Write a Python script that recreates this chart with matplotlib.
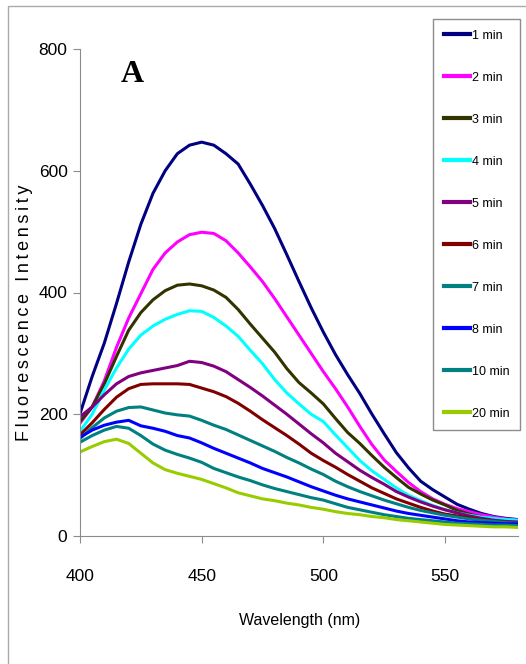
import numpy as np
import matplotlib
matplotlib.use("Agg")
import matplotlib.pyplot as plt
from matplotlib.patches import Rectangle

# ── données (pas de 5 nm) ──
WAVELENGTH = list(range(400, 585, 5))

LABELS = ["1 min", "2 min", "3 min", "4 min", "5 min",
          "6 min", "7 min", "8 min", "10 min", "20 min"]
COLORS = ["#000080", "#FF00FF", "#333300", "#00FFFF", "#800080",
          "#800000", "#008080", "#0000FF", "#008080", "#99CC00"]

I_1MIN = [201, 262, 317, 382, 450, 512, 563, 600, 628, 642, 647, 642, 628,
          611, 578, 543, 505, 462, 418, 375, 335, 298, 265, 234, 200, 168,
          137, 112, 90, 76, 64, 52, 44, 37, 32, 29, 27]
I_2MIN = [185, 212, 255, 310, 358, 398, 438, 465, 483, 495, 499, 497, 485,
          465, 442, 418, 390, 360, 330, 300, 270, 242, 212, 180, 150, 125,
          106, 88, 73, 61, 52, 45, 40, 35, 31, 28, 26]
I_3MIN = [188, 212, 250, 295, 338, 367, 388, 403, 412, 414, 411, 404, 392,
          372, 348, 325, 302, 275, 252, 235, 217, 193, 170, 152, 132, 113,
          96, 80, 69, 59, 51, 42, 36, 31, 27, 25, 24]
I_4MIN = [172, 200, 240, 276, 307, 330, 345, 356, 364, 370, 369, 359, 345,
          328, 305, 283, 257, 235, 217, 200, 188, 166, 145, 124, 107, 93,
          79, 67, 58, 50, 43, 38, 34, 31, 29, 27, 26]
I_5MIN = [196, 212, 232, 250, 262, 268, 272, 276, 280, 287, 285, 279, 270,
          257, 244, 230, 215, 200, 184, 168, 153, 136, 122, 108, 96, 85,
          73, 64, 56, 49, 43, 38, 33, 29, 26, 24, 23]
I_6MIN = [166, 186, 208, 228, 242, 249, 250, 250, 250, 249, 243, 237, 229,
          218, 205, 191, 178, 165, 151, 136, 124, 113, 101, 90, 79, 70,
          61, 54, 47, 41, 36, 33, 30, 27, 24, 22, 21]
I_7MIN = [160, 178, 194, 205, 211, 212, 207, 202, 199, 197, 190, 182, 175,
          166, 157, 148, 139, 129, 120, 110, 101, 90, 81, 73, 66, 59,
          53, 47, 42, 38, 34, 31, 28, 26, 24, 22, 21]
I_8MIN = [162, 174, 182, 187, 190, 181, 177, 172, 165, 161, 153, 144, 136,
          128, 120, 111, 104, 97, 89, 81, 74, 67, 61, 56, 51, 46,
          41, 37, 34, 31, 28, 25, 23, 22, 21, 20, 20]
I_10MIN = [154, 165, 174, 180, 177, 165, 151, 141, 134, 128, 121, 111, 104,
           97, 91, 84, 78, 73, 68, 63, 59, 53, 47, 43, 39, 35,
           32, 29, 27, 25, 23, 21, 20, 19, 18, 18, 17]
I_20MIN = [138, 147, 155, 159, 152, 136, 120, 109, 103, 98, 93, 86, 79,
           71, 66, 61, 58, 54, 51, 47, 44, 40, 37, 35, 32, 30,
           27, 25, 23, 21, 19, 18, 17, 16, 15, 15, 14]

SERIES = [I_1MIN, I_2MIN, I_3MIN, I_4MIN, I_5MIN,
          I_6MIN, I_7MIN, I_8MIN, I_10MIN, I_20MIN]

SANS = ["Liberation Sans", "DejaVu Sans"]
GRIS = "#8C8C8C"

# ─────────────────────────────────────────────────────────────
# FIGURE
# ─────────────────────────────────────────────────────────────

W, H = 526, 664
fig = plt.figure(figsize=(W / 100, H / 100), dpi=100)
ax = fig.add_axes([80 / W, (H - 536) / H, 438 / W, 487 / H])

for vals, lab, col in zip(SERIES, LABELS, COLORS):
    ax.plot(WAVELENGTH, vals, color=col, lw=2.2, label=lab)

ax.set_xlim(400, 580)
ax.set_ylim(0, 800)
ax.set_xticks([400, 450, 500, 550])
ax.set_yticks([0, 200, 400, 600, 800])
ax.spines[["top", "right"]].set_visible(False)
ax.spines[["left", "bottom"]].set_color(GRIS)
ax.tick_params(direction="out", length=5, color=GRIS, labelsize=12.5)
ax.tick_params(axis="y", pad=4)
ax.tick_params(axis="x", pad=19)
for t in ax.get_xticklabels() + ax.get_yticklabels():
    t.set_family(SANS)

# lettre du panneau
ax.text(132 / W, 1 - 75 / H, "A", transform=fig.transFigure,
        family=["Liberation Serif", "DejaVu Serif"], fontweight="bold",
        fontsize=23, ha="center", va="center")

# titres des axes
ylab = "\u2009".join("Fluorescence Intensity")
fig.text(25 / W, 1 - 313 / H, ylab, rotation=90, ha="center", va="center",
         family=SANS, fontsize=13)
fig.text(300 / W, 1 - 621 / H, "Wavelength (nm)", ha="center", va="center",
         family=SANS, fontsize=11.5)

# légende
leg = fig.legend(loc="upper left", bbox_to_anchor=(433 / W, 1 - 19 / H),
                 bbox_transform=fig.transFigure, borderaxespad=0,
                 prop={"family": SANS, "size": 9}, labelspacing=2.40,
                 handlelength=2.1, handletextpad=0.15, borderpad=0.85,
                 fancybox=False, framealpha=1, edgecolor=GRIS)
for line in leg.get_lines():
    line.set_linewidth(3)

# cadre extérieur
fig.patches.append(Rectangle((8 / W, -0.1), 1.2, (H - 6) / H + 0.1,
                             transform=fig.transFigure, fill=False,
                             edgecolor="#AAAAAA", lw=1))

fig.savefig("out.png", dpi=100)
